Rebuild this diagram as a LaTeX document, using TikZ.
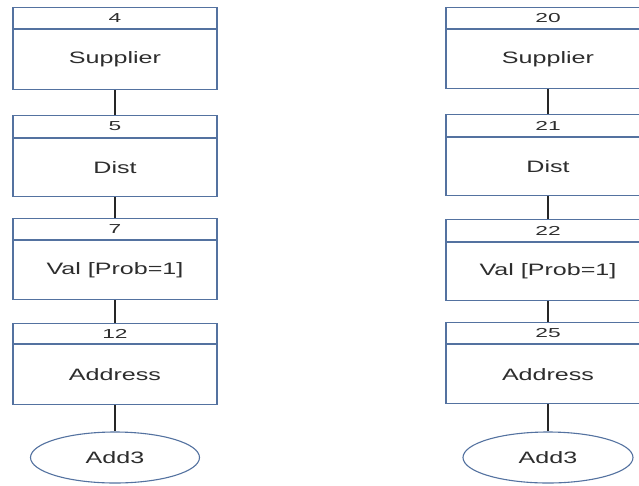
\documentclass[tikz,border=0pt]{standalone}
\usepackage{fontspec}
\usetikzlibrary{shapes.geometric}
\newfontfamily\bodyfont[FakeStretch=1.52]{Liberation Sans}
\newfontfamily\headfont[FakeStretch=1.75]{Liberation Sans}
\definecolor{boxblue}{RGB}{84,114,160}
\definecolor{txt}{RGB}{45,45,45}
\begin{document}
\begin{tikzpicture}[x=1pt,y=-1pt,
  hdr/.style={draw=boxblue, line width=1.1pt, minimum width=204pt, minimum height=21pt, inner sep=0pt, anchor=north, text=txt, fill=white, font=\headfont\fontsize{13}{14}\selectfont},
  body/.style={draw=boxblue, line width=1.1pt, minimum width=204pt, minimum height=59pt, inner sep=0pt, anchor=north, text=txt, fill=white, font=\bodyfont\fontsize{16.5}{18}\selectfont},
  endpt/.style={ellipse, draw=boxblue, line width=1.1pt, minimum width=169pt, minimum height=51pt, inner sep=0pt, text=txt, fill=white, font=\bodyfont\fontsize{16.5}{18}\selectfont},
  link/.style={draw=black!85, line width=1.2pt}]
\useasboundingbox (0,0) rectangle (639,485);
\fill[white] (0,0) rectangle (639,485);
\clip (0,0) rectangle (639,485);
% left column
\node[hdr] (lh1) at (115,7) {4};
\node[body, minimum height=60pt] (lb1) at (lh1.south) {Supplier};
\node[hdr, minimum height=22pt] (lh2) at (115,115) {5};
\node[body, minimum height=58pt] (lb2) at (lh2.south) {Dist};
\node[hdr] (lh3) at (115,218) {7};
\node[body] (lb3) at (lh3.south) {Val [Prob=1]};
\node[hdr, minimum height=20pt] (lh4) at (115,323) {12};
\node[body, minimum height=60pt] (lb4) at (lh4.south) {Address};
\node[endpt] (le) at (115,457.5) {Add3};
\draw[link] (lb1) -- (lh2);
\draw[link] (lb2) -- (lh3);
\draw[link] (lb3) -- (lh4);
\draw[link] (lb4) -- (le);
% right column
\node[hdr] (rh1) at (548,7) {20};
\node[body] (rb1) at (rh1.south) {Supplier};
\node[hdr, minimum height=22pt] (rh2) at (548,114) {21};
\node[body, minimum height=58pt] (rb2) at (rh2.south) {Dist};
\node[hdr, minimum height=22pt] (rh3) at (548,219) {22};
\node[body, minimum height=58pt] (rb3) at (rh3.south) {Val [Prob=1]};
\node[hdr] (rh4) at (548,322) {25};
\node[body] (rb4) at (rh4.south) {Address};
\node[endpt, minimum width=170pt] (re) at (548,457.5) {Add3};
\draw[link] (rb1) -- (rh2);
\draw[link] (rb2) -- (rh3);
\draw[link] (rb3) -- (rh4);
\draw[link] (rb4) -- (re);
\end{tikzpicture}
\end{document}
